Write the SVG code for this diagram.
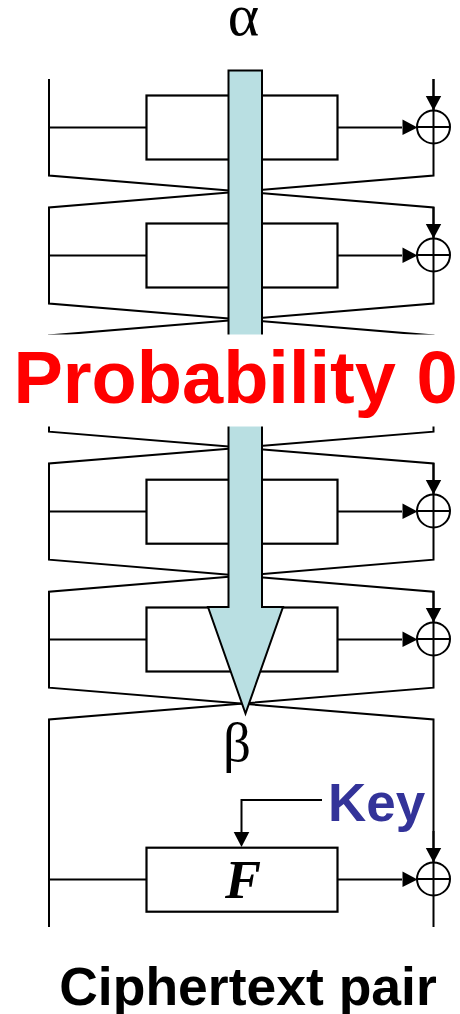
<svg xmlns="http://www.w3.org/2000/svg" width="460" height="1014" viewBox="0 0 460 1014">
<defs>
<style>
.l{fill:none;stroke:#000;stroke-width:2}
.b{fill:#fff;stroke:#000;stroke-width:2.200}
.a{fill:#000;stroke:none}
.x{fill:#fff;stroke:#000;stroke-width:2}
text{font-family:"Liberation Sans",Arial,sans-serif}
.g{font-family:"Liberation Serif","Times New Roman",serif;fill:#000}
</style>
<g id="xor"><path class="l" d="M0-48V-17"/><circle class="x" r="16.5"/><path class="l" d="M-16.5 0H16.5M0-16.5V16.5"/><path class="a" d="M-7.7-31H7.7L0-16.5Z"/><path class="a" d="M-31-7.5L-16 .5L-31 8Z"/></g>
</defs>
<rect width="460" height="1014" fill="#fff"/>
<g id="connectors">
<path class="l" d="M49 79V175.500L433.500 207.500V303.500L49 335.500V431.700L433.500 463.500V559.700L49 591.700V687.700L433.500 719.500V927"/>
<path class="l" d="M433.500 79V175.500L49 207.500V303.500L433.500 335.500V431.700L49 463.500V559.700L433.500 591.700V687.700L49 719.500V927"/>
<path class="l" d="M49 127.500H146.500M337.500 127.500H402M49 255.500H146.500M337.500 255.500H402M49 511.500H146.500M337.500 511.500H402M49 639.500H146.500M337.500 639.500H402M49 879.500H146.500M337.500 879.500H402"/>
<path class="l" d="M322 800H241.500V833"/>
<path class="a" d="M233.700 832H249.300L241.500 847Z"/>
</g>
<g id="round1"><rect class="b" x="146.500" y="95.500" width="191" height="64"/></g>
<g id="round2"><rect class="b" x="146.500" y="223.500" width="191" height="64"/></g>
<g id="round3"><rect class="b" x="146.500" y="479.700" width="191" height="64"/></g>
<g id="round4"><rect class="b" x="146.500" y="607.500" width="191" height="64"/></g>
<g id="roundF"><rect class="b" x="146.500" y="847.700" width="191" height="64"/>
<text class="g" x="243" y="898" font-size="54" font-weight="bold" font-style="italic" text-anchor="middle">F</text></g>
<use id="xor1" href="#xor" x="433.500" y="127"/>
<use id="xor2" href="#xor" x="433.500" y="255"/>
<use id="xor3" href="#xor" x="433.500" y="511"/>
<use id="xor4" href="#xor" x="433.500" y="639"/>
<use id="xor5" href="#xor" x="433.500" y="879"/>
<g id="arrow"><path d="M228.500 70.500H262V607H283L245.500 713.500L208 607H228.500Z" fill="#b9dfe2" stroke="#000" stroke-width="2"/></g>
<g id="probability"><rect x="0" y="334.500" width="460" height="92" fill="#fff"/>
<text x="235.500" y="403" font-size="74" font-weight="bold" fill="#f00" text-anchor="middle">Probability 0</text></g>
<text id="alpha" class="g" x="243.500" y="35" font-size="60" text-anchor="middle">α</text>
<text id="beta" class="g" x="237" y="761" font-size="55" text-anchor="middle">β</text>
<text id="key" x="376.500" y="821" font-size="53" font-weight="bold" fill="#333399" text-anchor="middle">Key</text>
<text id="pair" x="248" y="1005" font-size="53.500" font-weight="bold" fill="#000" text-anchor="middle">Ciphertext pair</text>
</svg>
